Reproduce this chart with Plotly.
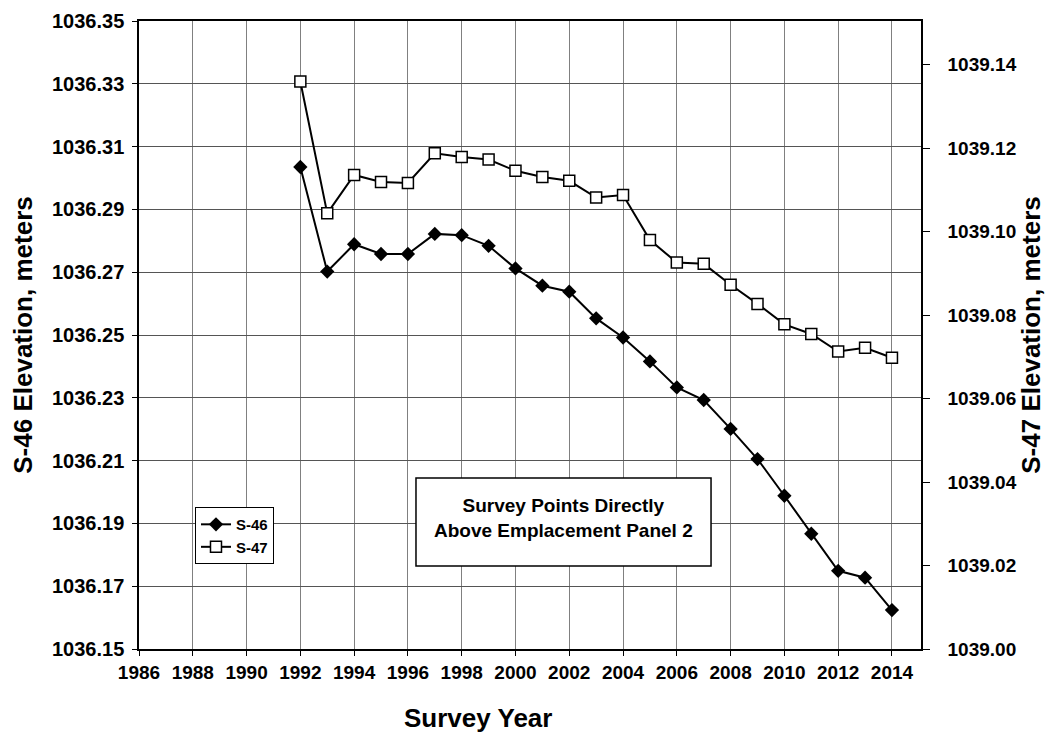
import plotly.graph_objects as go

# Survey years and elevations (meters) for the two survey points
years = list(range(1992, 2015))
s46_elev = [1036.3035, 1036.2702, 1036.2789, 1036.2758, 1036.2758, 1036.2822,
            1036.2818, 1036.2784, 1036.2712, 1036.2657, 1036.2638, 1036.2553,
            1036.2492, 1036.2416, 1036.2333, 1036.2293, 1036.2201, 1036.2105,
            1036.1988, 1036.1867, 1036.1749, 1036.1727, 1036.1624]
s47_elev = [1039.1360, 1039.1044, 1039.1136, 1039.1119, 1039.1117, 1039.1188,
            1039.1179, 1039.1173, 1039.1146, 1039.1131, 1039.1122, 1039.1082,
            1039.1088, 1039.0980, 1039.0926, 1039.0923, 1039.0873, 1039.0827,
            1039.0778, 1039.0755, 1039.0713, 1039.0722, 1039.0698]

FONT = "Arial, Liberation Sans, Helvetica, sans-serif"


def bold(size):
    return dict(family=FONT, size=size, color="black", weight="bold")


fig = go.Figure()
fig.add_trace(go.Scatter(
    x=years, y=s46_elev, name="S-46", mode="lines+markers",
    line=dict(color="black", width=2),
    marker=dict(symbol="diamond", size=11, color="black"),
    yaxis="y"))
fig.add_trace(go.Scatter(
    x=years, y=s47_elev, name="S-47", mode="lines+markers",
    line=dict(color="black", width=2),
    marker=dict(symbol="square", size=11, color="white",
                line=dict(color="black", width=1.5)),
    yaxis="y2"))

# Boxed caption inside the plot area
fig.add_shape(type="rect", xref="paper", yref="paper",
              x0=0.3542, x1=0.7315, y0=0.1322, y1=0.2723,
              line=dict(color="black", width=1.5), fillcolor="white", layer="above")
fig.add_annotation(xref="paper", yref="paper", x=0.5429, y=0.2086,
                   xanchor="center", yanchor="middle",
                   text="Survey Points Directly<br>Above Emplacement Panel 2",
                   showarrow=False, align="center", font=bold(19))

# Horizontal axis caption
fig.add_annotation(xref="paper", yref="paper", x=(478 - 139) / 782, y=-69 / 628,
                   xanchor="center", yanchor="middle", text="Survey Year",
                   showarrow=False, font=bold(26))

fig.update_layout(
    width=1046, height=736,
    margin=dict(l=139, r=125, t=21, b=87, autoexpand=False),
    paper_bgcolor="white", plot_bgcolor="white",
    font=dict(family=FONT, color="black"),
    showlegend=True,
    legend=dict(x=0.0716, y=0.226, xanchor="left", yanchor="top",
                bgcolor="white", bordercolor="black", borderwidth=1,
                font=bold(15), itemwidth=30, tracegroupgap=0),
    xaxis=dict(
        range=[1986, 2015.08], tick0=1986, dtick=2,
        showline=True, linecolor="black", linewidth=1.5, mirror=True,
        showgrid=True, gridcolor="#808080", gridwidth=1,
        ticks="outside", ticklen=5, tickcolor="black",
        tickfont=bold(19),
        zeroline=False, automargin=False),
    yaxis=dict(
        range=[1036.15, 1036.35], tick0=1036.15, dtick=0.02, tickformat=".2f",
        showline=True, linecolor="black", linewidth=1.5,
        showgrid=True, gridcolor="#555555", gridwidth=1,
        ticks="outside", ticklen=5, tickcolor="black", ticklabelstandoff=4,
        tickfont=bold(20),
        title=dict(text="S-46 Elevation, meters", standoff=12, font=bold(26)),
        zeroline=False, automargin=False),
    yaxis2=dict(
        range=[1039.00, 1039.1505], tick0=1039.0, dtick=0.02, tickformat=".2f",
        overlaying="y", side="right",
        showline=True, linecolor="black", linewidth=1.5,
        showgrid=False,
        ticks="outside", ticklen=7, tickcolor="black", ticklabelstandoff=14,
        tickfont=bold(19),
        title=dict(text="S-47 Elevation, meters", standoff=0, font=bold(26)),
        zeroline=False, automargin=False),
)

fig.write_html("out.html")
